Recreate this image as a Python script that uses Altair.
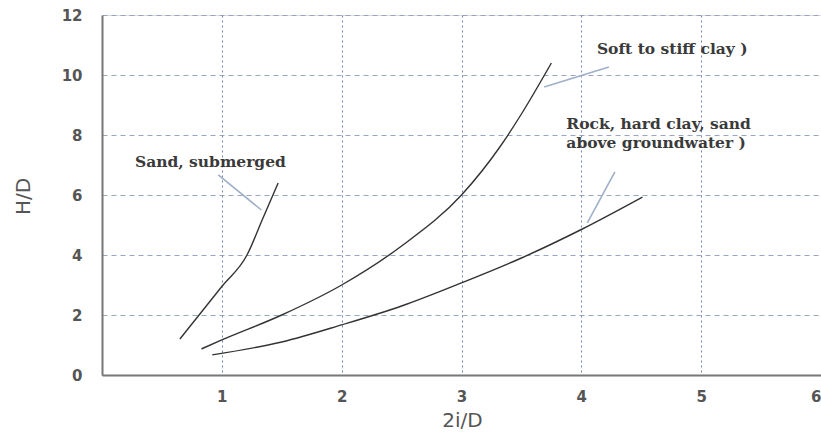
import altair as alt
import pandas as pd

# Curves
sand_x = [0.65, 1.0, 1.21, 1.34, 1.47]
sand_y = [1.2, 2.95, 4.0, 5.2, 6.4]
clay_x = [0.83, 1.0, 1.5, 2.0, 2.5, 3.0, 3.32, 3.5, 3.75]
clay_y = [0.87, 1.17, 2.0, 3.0, 4.3, 6.0, 7.6, 8.7, 10.4]
rock_x = [0.92, 1.5, 2.0, 2.5, 3.0, 3.5, 4.0, 4.51]
rock_y = [0.67, 1.1, 1.67, 2.3, 3.07, 3.9, 4.85, 5.93]

# Leader lines (pairs of points)
leader_id = ["sand", "sand", "clay", "clay", "rock", "rock"]
leader_x = [0.97, 1.33, 3.69, 4.23, 4.05, 4.28]
leader_y = [6.67, 5.5, 9.6, 10.27, 5.07, 6.77]

# Labels
label_text = ["Sand, submerged", "Soft to stiff clay )", "Rock, hard clay, sand", "above groundwater )"]
label_x = [0.275, 4.13, 3.875, 3.875]
label_y = [7.1, 10.87, 8.37, 7.73]

x_ticks = [1, 2, 3, 4, 5, 6]
y_ticks = [0, 2, 4, 6, 8, 10, 12]

curves = pd.concat([
    pd.DataFrame({"curve": "sand", "x": sand_x, "y": sand_y, "o": range(len(sand_x))}),
    pd.DataFrame({"curve": "clay", "x": clay_x, "y": clay_y, "o": range(len(clay_x))}),
    pd.DataFrame({"curve": "rock", "x": rock_x, "y": rock_y, "o": range(len(rock_x))}),
])
leaders = pd.DataFrame({"id": leader_id, "x": leader_x, "y": leader_y})
labels = pd.DataFrame({"t": label_text, "x": label_x, "y": label_y})

xs = alt.Scale(domain=[0, 6], nice=False, zero=True)
ys = alt.Scale(domain=[0, 12], nice=False)

xaxis = alt.Axis(values=x_ticks, format="d", title="2i/D", grid=True, gridDash=[2, 3], gridColor="#5f77b0",
                 gridWidth=1, gridOpacity=0.9, ticks=False, labelPadding=14,
                 labelFont="DejaVu Sans", labelFontSize=15, labelFontWeight="bold", labelColor="#555",
                 domainColor="#777", domainWidth=2,
                 titleFont="DejaVu Sans", titleFontSize=20, titleFontWeight="normal", titleColor="#555",
                 titleX=360, titleY=45, titleBaseline="middle", titleAlign="center")
yaxis = alt.Axis(values=y_ticks, format="d", title="H/D", grid=True, gridDash=[5, 4], gridColor="#8f9bbd",
                 gridWidth=1, gridOpacity=0.9, ticks=False, labelPadding=20,
                 labelFont="DejaVu Sans", labelFontSize=15, labelFontWeight="bold", labelColor="#555",
                 domainColor="#777", domainWidth=2,
                 titleFont="DejaVu Sans", titleFontSize=20, titleFontWeight="normal", titleColor="#555",
                 titleX=-79, titleY=181, titleBaseline="middle", titleAlign="center", titleAngle=270)

lines = alt.Chart(curves).mark_line(color="#333", strokeWidth=1.4, interpolate="monotone").encode(
    x=alt.X("x:Q", scale=xs, axis=xaxis),
    y=alt.Y("y:Q", scale=ys, axis=yaxis),
    detail="curve:N",
    order="o:Q",
)
lead = alt.Chart(leaders).mark_line(color="#9fb0c8", strokeWidth=1.6).encode(
    x=alt.X("x:Q", scale=xs), y=alt.Y("y:Q", scale=ys), detail="id:N"
)
text = alt.Chart(labels).mark_text(align="left", baseline="middle", font="DejaVu Serif",
                                   fontSize=15.5, fontWeight="bold", color="#3a3a3a").encode(
    x=alt.X("x:Q", scale=xs), y=alt.Y("y:Q", scale=ys), text="t:N"
)

chart = alt.layer(lines, lead, text).properties(
    width=719, height=360,
    autosize=alt.AutoSizeParams(type="none"),
    padding={"left": 102, "top": 15, "right": 0, "bottom": 62},
).configure_view(stroke="#888", strokeWidth=1.5).configure(background="white")

chart.save("out.html", embed_options={"renderer": "svg", "actions": False})
